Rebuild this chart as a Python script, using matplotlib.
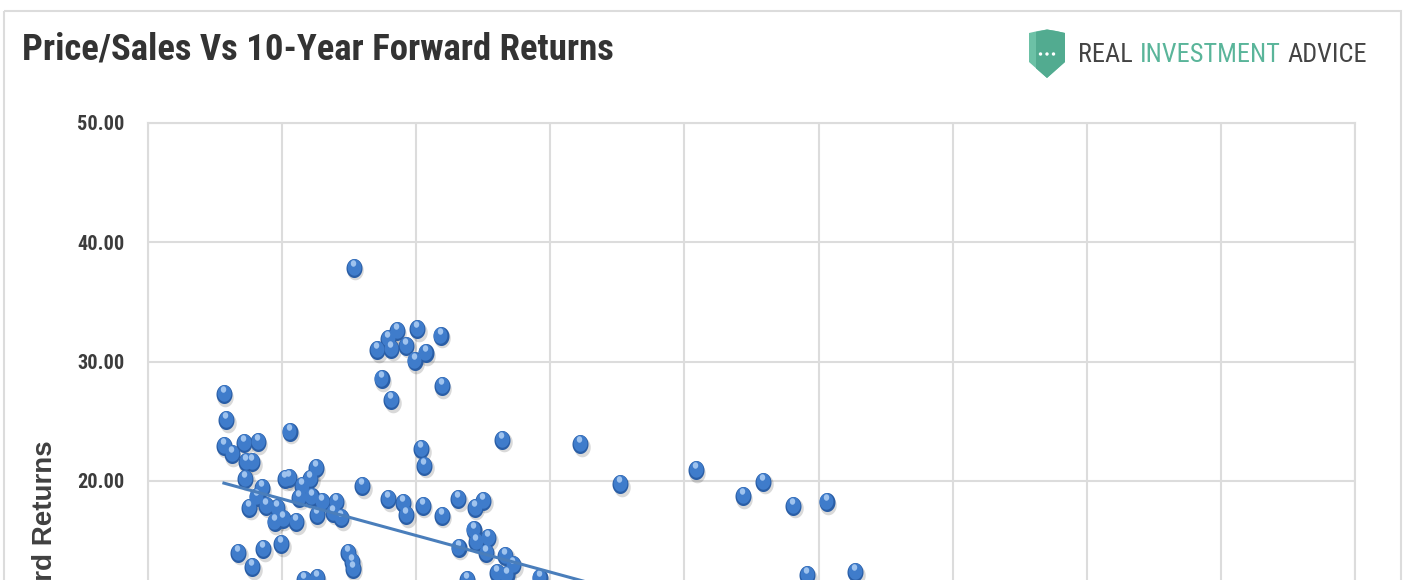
import matplotlib
matplotlib.use("Agg")
import matplotlib.pyplot as plt
import numpy as np
from matplotlib import font_manager, transforms
from matplotlib.font_manager import FontProperties
from matplotlib.patches import Polygon, Circle, Rectangle
from matplotlib.path import Path

# ---------------- data ----------------
price_to_sales = [
    0.768, 0.854, 0.895, 0.906, 0.928, 0.962, 1.003, 0.995, 1.036, 1.092,
    0.872, 0.906, 1.096, 0.283, 0.291, 0.283, 0.313, 0.358, 0.410, 0.365,
    0.388, 0.362, 0.529, 1.320, 1.018, 1.029, 0.511, 0.526, 0.626, 0.604,
    0.574, 0.425, 0.406, 0.377, 0.440, 0.481, 0.473, 0.503, 0.552, 0.563,
    0.611, 0.649, 0.701, 0.630, 0.690, 0.720, 0.798, 0.895, 0.951, 0.962,
    1.025, 1.096, 1.156, 1.249, 1.219, 1.215, 1.223, 1.268, 1.260, 1.159,
    1.331, 1.361, 1.301, 1.338, 1.461, 0.336, 0.388, 0.429, 0.496, 0.746,
    0.761, 0.764, 0.582, 0.630, 1.189, 1.611, 1.760, 2.043, 2.218, 2.293,
    2.405, 2.531, 2.457, 2.636,
]
forward_returns = [
    37.85, 30.97, 31.89, 31.06, 32.56, 31.31, 32.73, 30.05, 30.72, 32.15,
    28.54, 26.78, 27.95, 27.28, 25.10, 22.93, 22.25, 23.18, 23.26, 21.58,
    21.58, 20.16, 24.10, 23.43, 22.67, 21.25, 20.16, 20.24, 21.08, 20.16,
    19.57, 19.40, 18.65, 17.73, 17.90, 17.73, 16.55, 16.81, 16.55, 18.57,
    18.65, 18.23, 18.23, 17.14, 17.31, 16.89, 19.57, 18.48, 18.15, 17.14,
    17.90, 17.06, 18.48, 18.32, 17.73, 15.88, 14.88, 15.21, 13.96, 14.38,
    13.71, 12.95, 12.28, 12.11, 11.86, 13.96, 12.78, 14.29, 14.71, 13.96,
    13.20, 12.62, 11.69, 11.86, 11.69, 23.09, 19.74, 20.91, 18.73, 19.91,
    17.90, 18.23, 12.11, 12.36,
]
trend_intercept = 21.55
trend_slope = -6.13
y_ticks = [0, 10, 20, 30, 40, 50]
x_ticks = [0.0, 0.5, 1.0, 1.5, 2.0, 2.5, 3.0, 3.5, 4.0, 4.5]
title_text = "Price/Sales Vs 10-Year Forward Returns"
y_label_text = "10-Year Forward Returns"
brand_words = ["REAL", "INVESTMENT", "ADVICE"]

# ---------------- fonts ----------------
def find_narrow(weight):
    cands = [("Liberation Sans Narrow", "normal"), ("Roboto Condensed", "normal"),
             ("Open Sans Condensed", "normal"), ("DejaVu Sans", "condensed"),
             ("Noto Sans", "condensed"), ("Open Sans", "condensed"),
             ("Roboto", "condensed"), ("Noto Sans", "semi-condensed")]
    for fam, st in cands:
        try:
            p = font_manager.findfont(FontProperties(family=fam, stretch=st, weight=weight),
                                      fallback_to_default=False)
        except Exception:
            continue
        low = p.lower()
        if "condensed" in low or "narrow" in low:
            return p
    return None

def props(weight, size):
    p = find_narrow(weight)
    if p is not None:
        return FontProperties(fname=p, size=size)
    return FontProperties(family="Liberation Sans", weight=weight, size=size)

W, H = 1406, 580
fig = plt.figure(figsize=(W / 100, H / 100), dpi=100)
fig.patch.set_facecolor("white")

bg = fig.add_axes([0, 0, 1, 1], zorder=0)
bg.set_xlim(0, W)
bg.set_ylim(H, 0)
bg.axis("off")

bg.add_patch(Rectangle((4, 10.5), 1397, 700, fill=False, edgecolor="#dcdcdc", lw=1.5))

# ---------------- main axes ----------------
ax_left, ax_right, ax_top = 148, 1355, 123
px_per_unit = 11.93
ymin, ymax = 0, 50
ax_h_px = (ymax - ymin) * px_per_unit
ax = fig.add_axes([ax_left / W, 1 - (ax_top + ax_h_px) / H,
                   (ax_right - ax_left) / W, ax_h_px / H], zorder=1)
ax.set_xlim(0, 4.5)
ax.set_ylim(ymin, ymax)
ax.set_xticks(x_ticks)
ax.set_yticks(y_ticks)
ax.set_xticklabels([])
ax.set_yticklabels([f"{v:.2f}" for v in y_ticks])
ax.grid(True, color="#dcdcdc", lw=1.5)
ax.set_axisbelow(True)
for s in ax.spines.values():
    s.set_color("#dcdcdc")
    s.set_linewidth(1.5)
ax.tick_params(length=0, pad=17)

fig.canvas.draw()
renderer = fig.canvas.get_renderer()

def fit_width(txt, target_w):
    w = txt.get_window_extent(renderer).width
    txt.set_fontsize(txt.get_fontsize() * target_w / w)

tick_fp = props("bold", 16)
for lab in ax.get_yticklabels():
    lab.set_fontproperties(tick_fp)
    lab.set_color("#3c3c3c")
fig.canvas.draw()
lab50 = ax.get_yticklabels()[-1]
w50 = lab50.get_window_extent(renderer).width
new_size = tick_fp.get_size() * 47 / w50
for lab in ax.get_yticklabels():
    lab.set_fontsize(new_size)

# sphere-like markers
t = np.linspace(0, 2 * np.pi, 64)
ell = Path(np.column_stack([0.84 * np.cos(t), np.sin(t)]), closed=True)
x = np.array(price_to_sales)
y = np.array(forward_returns)
shadow_tr = transforms.offset_copy(ax.transData, fig, x=1.5, y=-2.5, units="dots")
mid_tr = transforms.offset_copy(ax.transData, fig, x=-0.4, y=1.0, units="dots")
hi_tr = transforms.offset_copy(ax.transData, fig, x=-0.8, y=4.6, units="dots")
ax.scatter(x, y, s=200, marker=ell, color=(0, 0, 0, 0.15), lw=0, transform=shadow_tr, zorder=2)
ax.scatter(x, y, s=188, marker=ell, color="#2a5ea6", lw=0, zorder=3)
ax.scatter(x, y, s=140, marker=ell, color="#3f7ccb", lw=0, transform=mid_tr, zorder=3)
ax.scatter(x, y, s=22, marker=ell, color="#9fc3ee", lw=0, transform=hi_tr, zorder=3)

xs = np.array([x.min(), x.max()])
ax.plot(xs, trend_intercept + trend_slope * xs, color="#4a7ebb", lw=2.2, zorder=4)

# ---------------- texts ----------------
title = bg.text(22, 60, title_text, ha="left", va="baseline",
                fontproperties=props("bold", 28), color="#333333")
fit_width(title, 593)

ylab = bg.text(45, 440, y_label_text, rotation=90, ha="center", va="top",
               fontsize=20, fontweight="bold", family="Liberation Sans", color="#404040")

shield = [(1029, 33), (1038, 31), (1047, 29.5), (1056, 31), (1065, 33),
          (1065, 62), (1047, 78), (1029, 62)]
bg.add_patch(Polygon(shield, closed=True, facecolor="#6cc1a6", edgecolor="none"))
right_half = [(1036, 31.9), (1047, 29.5), (1056, 31), (1065, 33), (1065, 62),
              (1047, 78), (1036, 68.4)]
bg.add_patch(Polygon(right_half, closed=True, facecolor="#52ab90", edgecolor="none"))
for cx in (1040.5, 1047, 1053.5):
    bg.add_patch(Circle((cx, 54), 1.7, facecolor="white", edgecolor="none"))

colors = ["#444444", "#5ab59a", "#444444"]
brand_fp = props("normal", 18)
def place_brand(fs):
    xpos = 1078
    arts = []
    for word, col in zip(brand_words, colors):
        fp = brand_fp.copy()
        fp.set_size(fs)
        tt = bg.text(xpos, 62, word, ha="left", va="baseline",
                     fontproperties=fp, color=col)
        w = tt.get_window_extent(renderer).width
        arts.append(tt)
        xpos += w + fs * 0.26 * 100 / 72
    return arts, xpos - fs * 0.26 * 100 / 72

arts, end = place_brand(18)
scale = (1366 - 1078) / (end - 1078)
for a in arts:
    a.remove()
place_brand(18 * scale)

fig.savefig("out.png", dpi=100)
